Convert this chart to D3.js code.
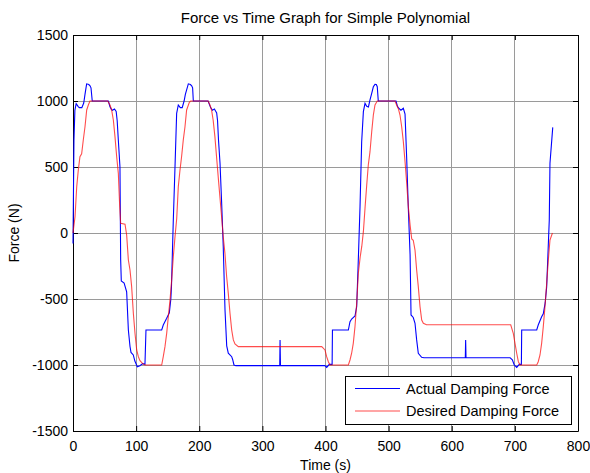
<!DOCTYPE html>
<html>
<head>
<meta charset="utf-8">
<script src="https://cdn.jsdelivr.net/npm/d3@7"></script>
<style>
  body { margin: 0; background: #fff; }
  svg { display: block; font-family: "Liberation Sans", Arial, sans-serif; }
</style>
</head>
<body>
<svg id="viz" width="590" height="473"></svg>
<script>
const margin = { top: 35, right: 12, bottom: 42, left: 73 };

const xTicks = [0, 100, 200, 300, 400, 500, 600, 700, 800];
const yTicks = [-1500, -1000, -500, 0, 500, 1000, 1500];

// Actual damping force (blue)
const actualTime = [
  0, 1.5, 3, 5, 8, 10, 14, 17, 19, 21.6, 25, 27, 28.5, 30.5,
  56, 58.6, 61, 62.5, 65.7, 68.4, 70, 71.8, 74.4, 75.5, 76.5, 81, 85, 87.7,
  90.3, 91.9, 95.5, 98, 101.9, 106, 110.3, 114, 115.6, 140.5, 143, 148.4, 152.6, 155,
  156, 158.9, 161.6, 164.2, 166.8, 170, 173, 176, 178, 182.7, 186, 188, 189.5, 190.6,
  214, 218, 221, 224, 227.6, 229, 230.5, 232.9, 235.5, 238, 240.8, 243.5, 246, 251.4,
  253, 255, 258, 327.5, 328, 328.7, 399, 401.9, 406, 410.5, 411, 436.2, 438.8, 441.4,
  446.7, 449.4, 452, 454.7, 457.3, 460, 462.6, 465.3, 468, 470.5, 473.2, 475.8, 478.4, 480.5,
  482, 483.6, 511.7, 514, 516, 519.5, 523.3, 526, 528.6, 531.2, 534, 535.5, 539, 541.8,
  544.4, 547, 552.3, 556, 621.5, 622, 622.6, 692.5, 696, 699, 702.9, 707, 710.3, 710.8,
  734.6, 737, 742.4, 745, 748, 750.4, 754.5, 755.6, 760
];
const actualForce = [
  -80, 700, 930, 980, 960, 950, 950, 985, 1050, 1130, 1125, 1115, 1100, 1000,
  1000, 957, 935, 930, 940, 920, 850, 705, 500, -200, -364, -380, -445, -735,
  -860, -905, -924, -970, -1013, -1005, -990, -995, -735, -735, -697, -646, -604, -500,
  -406, 98, 502, 907, 970, 950, 950, 1000, 1050, 1130, 1125, 1115, 1100, 1000,
  1000, 950, 930, 940, 910, 850, 705, 528, 225, -100, -583, -856, -910, -937,
  -960, -1000, -1005, -1005, -810, -1005, -1005, -1018, -995, -995, -735, -735, -672, -652,
  -629, -558, -200, 200, 692, 919, 982, 960, 955, 1008, 1058, 1108, 1126, 1125,
  1108, 1000, 1000, 960, 945, 930, 945, 900, 566, 187, -167, -621, -640, -684,
  -810, -911, -942, -945, -945, -810, -945, -945, -960, -1000, -1018, -995, -995, -735,
  -735, -697, -634, -612, -530, -406, 98, 528, 800
];

// Desired damping force (red)
const desiredTime = [
  0, 3.2, 5.9, 8.4, 11, 13.7, 16.3, 19, 21.7, 24.3, 26.9, 54.9, 58.6, 61.2,
  63.9, 66.5, 69.2, 71.8, 74, 75.5, 82.4, 85, 87.7, 90.3, 92.9, 95.6, 98.2, 100.9,
  103.5, 106.1, 110.4, 114, 140.5, 143, 145.7, 148.4, 151, 153.7, 156.3, 158.9, 161.6, 164.3,
  166.8, 169.5, 172, 174.7, 177.4, 180, 184.3, 186.4, 214, 217, 219.5, 222, 224.8, 227.4,
  230, 232.7, 235.4, 238, 240.7, 243.4, 246, 248.7, 251.4, 254, 256.6, 261.9, 394, 399.2,
  401.8, 404.5, 407, 436.2, 438.8, 441.4, 444, 446.7, 449.4, 452, 455, 457.5, 460, 462.6,
  465.3, 467.8, 470.5, 473.2, 475.8, 478.4, 482, 510, 512.7, 515.5, 518, 520.7, 523.3, 526,
  528.6, 531.2, 534, 536.6, 539, 541.8, 544.4, 547, 549.7, 552.4, 555, 560, 693.4, 697.5,
  700.2, 702.9, 705.5, 708, 734.6, 737, 739.8, 742.4, 745, 747.7, 750.4, 753, 755.6, 759.5
];
const desiredForce = [
  0, 123, 350, 477, 578, 600, 705, 805, 932, 970, 1000, 1000, 970, 932,
  856, 730, 578, 452, 200, 73, 66, -15, -205, -280, -406, -608, -760, -886,
  -937, -967, -990, -1000, -1000, -937, -861, -760, -634, -507, -356, -180, -28, 110,
  350, 477, 578, 705, 805, 932, 990, 1000, 1000, 970, 932, 856, 730, 578,
  427, 275, 123, -28, -154, -331, -457, -608, -735, -810, -840, -861, -861, -886,
  -937, -975, -1000, -1000, -962, -911, -836, -710, -533, -305, -180, -100, 10, 187,
  364, 515, 616, 767, 894, 970, 1000, 1000, 970, 940, 894, 805, 692, 540,
  380, 200, 60, -45, -55, -129, -280, -406, -558, -659, -684, -695, -695, -760,
  -836, -911, -975, -1000, -1000, -975, -924, -836, -710, -558, -381, -205, -53, 0
];

const legendLabels = ["Actual Damping Force", "Desired Damping Force"];
const seriesColors = ["#0000ff", "#ff0000"];

const svg = d3.select("#viz");
const width = +svg.attr("width");
const height = +svg.attr("height");

const x = d3.scaleLinear().domain([0, 800]).range([margin.left, width - margin.right]);
const y = d3.scaleLinear().domain([-1500, 1500]).range([height - margin.bottom, margin.top]);

// grid
const grid = svg.append("g").attr("stroke", "#9a9a9a").attr("stroke-width", 1).attr("shape-rendering", "crispEdges");
grid.selectAll(".gx").data(xTicks.slice(1, -1)).join("line")
  .attr("x1", d => x(d)).attr("x2", d => x(d))
  .attr("y1", y(1500)).attr("y2", y(-1500));
grid.selectAll(".gy").data(yTicks.slice(1, -1)).join("line")
  .attr("x1", x(0)).attr("x2", x(800))
  .attr("y1", d => y(d)).attr("y2", d => y(d));

// axes, MATLAB style: ticks inward on all four sides, plain hyphen minus
const fmt = d => String(d);
const axB = svg.append("g").attr("transform", `translate(0,${y(-1500)})`)
  .call(d3.axisBottom(x).tickValues(xTicks).tickFormat(fmt).tickSizeInner(-5).tickSizeOuter(0).tickPadding(10));
const axT = svg.append("g").attr("transform", `translate(0,${y(1500)})`)
  .call(d3.axisTop(x).tickValues(xTicks).tickFormat("").tickSizeInner(-5).tickSizeOuter(0));
const axL = svg.append("g").attr("transform", `translate(${x(0)},0)`)
  .call(d3.axisLeft(y).tickValues(yTicks).tickFormat(fmt).tickSizeInner(-5).tickSizeOuter(0).tickPadding(5));
const axR = svg.append("g").attr("transform", `translate(${x(800)},0)`)
  .call(d3.axisRight(y).tickValues(yTicks).tickFormat("").tickSizeInner(-5).tickSizeOuter(0));
[axB, axT, axL, axR].forEach(a => {
  a.selectAll("text").attr("font-size", 14).attr("fill", "#000").attr("font-family", "Liberation Sans, Arial, sans-serif");
  a.select(".domain").attr("stroke", "#000");
  a.selectAll(".tick line").attr("stroke", "#000");
});

// series
const line = d3.line().x(d => x(d[0])).y(d => y(d[1]));
const actual = actualTime.map((t, i) => [t, actualForce[i]]);
const desired = desiredTime.map((t, i) => [t, desiredForce[i]]);

svg.append("path").datum(actual)
  .attr("fill", "none").attr("stroke", seriesColors[0]).attr("stroke-width", 1.1)
  .attr("d", line);
svg.append("path").datum(desired)
  .attr("fill", "none").attr("stroke", seriesColors[1]).attr("stroke-width", 1.1).attr("stroke-opacity", 0.7)
  .attr("d", line);

// titles
svg.append("text").attr("x", (x(0) + x(800)) / 2).attr("y", 23)
  .attr("text-anchor", "middle").attr("font-size", 15).text("Force vs Time Graph for Simple Polynomial");
svg.append("text").attr("x", (x(0) + x(800)) / 2).attr("y", 470)
  .attr("text-anchor", "middle").attr("font-size", 14).text("Time (s)");
svg.append("text").attr("transform", `translate(19,${y(0)}) rotate(-90)`)
  .attr("text-anchor", "middle").attr("font-size", 14).text("Force (N)");

// legend
const legend = svg.append("g").attr("transform", "translate(345,376)");
legend.append("rect").attr("width", 226).attr("height", 48)
  .attr("fill", "#fff").attr("stroke", "#000").attr("shape-rendering", "crispEdges");
legendLabels.forEach((lab, i) => {
  const ly = 12.5 + i * 22.5;
  legend.append("line").attr("x1", 10).attr("x2", 55).attr("y1", ly).attr("y2", ly)
    .attr("stroke", seriesColors[i]).attr("stroke-width", 1.1).attr("stroke-opacity", i ? 0.7 : 1);
  legend.append("text").attr("x", 61).attr("y", ly + 5).attr("font-size", 14.5).text(lab);
});
</script>
</body>
</html>
